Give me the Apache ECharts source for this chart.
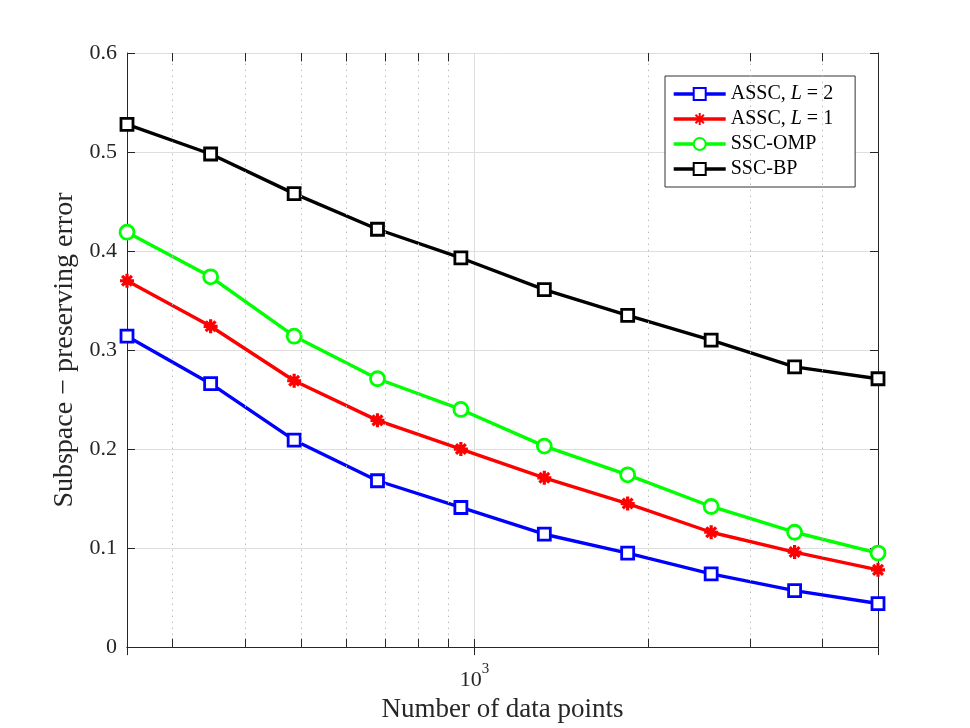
<!DOCTYPE html>
<html>
<head>
<meta charset="utf-8">
<title>Subspace-preserving error</title>
<script src="https://cdn.jsdelivr.net/npm/echarts@6/dist/echarts.min.js"></script>
<style>
  html, body { margin: 0; padding: 0; background: #fff; }
  #main { width: 970px; height: 728px; }
</style>
</head>
<body>
<div id="main"></div>
<script>
// x: number of data points (log axis)
const xPoints = [250, 349, 487, 679, 947, 1321, 1842, 2570, 3585, 5000];
// minor grid / tick positions of the log axis
const xMinorTicks = [300, 400, 500, 600, 700, 800, 900, 2000, 3000, 4000];

// y: subspace-preserving error
const assc2 = [0.314, 0.266, 0.209, 0.168, 0.141, 0.114, 0.095, 0.074, 0.057, 0.044];
const assc1 = [0.370, 0.324, 0.269, 0.229, 0.200, 0.171, 0.145, 0.116, 0.096, 0.078];
const sscOmp = [0.419, 0.374, 0.314, 0.271, 0.240, 0.203, 0.174, 0.142, 0.116, 0.095];
const sscBp = [0.528, 0.498, 0.458, 0.422, 0.393, 0.361, 0.335, 0.310, 0.283, 0.271];

const seriesNames = ['ASSC, L = 2', 'ASSC, L = 1', 'SSC-OMP', 'SSC-BP'];

const FONT = 'Liberation Serif';
const AXIS_COLOR = '#262626';
const asterisk = 'path://M0,-1L0,1M-1,0L1,0M-0.7,-0.7L0.7,0.7M-0.7,0.7L0.7,-0.7';

const chart = echarts.init(document.getElementById('main'), null, { renderer: 'canvas' });

function pairs(vals) {
  return xPoints.map((x, i) => [x, vals[i]]);
}

function lineSeries(name, vals, color, symbol, size) {
  const star = symbol === asterisk;
  return {
    name: name,
    type: 'line',
    data: pairs(vals),
    symbol: symbol,
    symbolSize: size,
    showAllSymbol: true,
    lineStyle: { color: color, width: 3.4 },
    itemStyle: {
      color: star ? color : '#fff',
      borderColor: color,
      borderWidth: star ? 3.2 : 2.8
    },
    emphasis: { disabled: true },
    z: 3
  };
}

// dotted minor grid lines plus short inner ticks on the bottom and top edges
const minorGrid = xMinorTicks.map(x => [{ coord: [x, 0] }, { coord: [x, 0.6] }]);
const minorTicks = [];
xMinorTicks.forEach(x => {
  minorTicks.push([{ coord: [x, 0] }, { coord: [x, 0.0085] }]);
  minorTicks.push([{ coord: [x, 0.5915] }, { coord: [x, 0.6] }]);
});

const option = {
  backgroundColor: '#fff',
  animation: false,
  grid: { left: 127, right: 92, top: 53, bottom: 80 },
  legend: {
    data: seriesNames,
    orient: 'vertical',
    left: 665,
    top: 76,
    itemWidth: 52,
    itemHeight: 15,
    itemGap: 5,
    itemTextGap: 6,
    padding: [8, 22, 8, 7],
    backgroundColor: '#fff',
    borderColor: '#333',
    borderWidth: 1,
    borderRadius: 0,
    lineStyle: { width: 3.4 },
    textStyle: {
      fontFamily: FONT,
      fontSize: 20,
      color: '#000',
      rich: {
        i: { fontFamily: FONT, fontSize: 20, fontStyle: 'italic', color: '#000' }
      }
    },
    formatter: name => name.replace('L', '{i|L}')
  },
  xAxis: [{
    type: 'log',
    logBase: 10,
    min: 250,
    max: 5000,
    name: 'Number of data points',
    nameLocation: 'middle',
    nameGap: 44,
    nameTextStyle: { fontFamily: FONT, fontSize: 27, color: AXIS_COLOR },
    axisLine: { show: true, lineStyle: { color: AXIS_COLOR, width: 1 } },
    axisTick: { show: true, inside: true, length: 8, lineStyle: { color: AXIS_COLOR } },
    axisLabel: {
      margin: 14,
      formatter: v => (Math.abs(v - 1000) < 1 ? '{b|10}{s|3}' : ''),
      rich: {
        b: { fontFamily: FONT, fontSize: 22, color: AXIS_COLOR, lineHeight: 30, verticalAlign: 'bottom' },
        s: { fontFamily: FONT, fontSize: 15, color: AXIS_COLOR, verticalAlign: 'top' }
      }
    },
    splitLine: { show: true, lineStyle: { color: '#dedede', width: 1 } }
  }, {
    type: 'log',
    logBase: 10,
    min: 250,
    max: 5000,
    position: 'top',
    axisLine: { show: true, lineStyle: { color: AXIS_COLOR, width: 1 } },
    axisTick: { show: true, inside: true, length: 8, lineStyle: { color: AXIS_COLOR } },
    axisLabel: { show: false },
    splitLine: { show: false }
  }],
  yAxis: [{
    type: 'value',
    min: 0,
    max: 0.6,
    interval: 0.1,
    name: 'Subspace \u2212 preserving error',
    nameLocation: 'middle',
    nameGap: 48,
    nameTextStyle: { fontFamily: FONT, fontSize: 28, color: AXIS_COLOR },
    axisLine: { show: true, lineStyle: { color: AXIS_COLOR, width: 1 } },
    axisTick: { show: true, inside: true, length: 8, lineStyle: { color: AXIS_COLOR } },
    axisLabel: { margin: 10, fontFamily: FONT, fontSize: 22, color: AXIS_COLOR },
    splitLine: { show: true, lineStyle: { color: '#dedede', width: 1 } }
  }, {
    type: 'value',
    min: 0,
    max: 0.6,
    interval: 0.1,
    position: 'right',
    axisLine: { show: true, lineStyle: { color: AXIS_COLOR, width: 1 } },
    axisTick: { show: true, inside: true, length: 8, lineStyle: { color: AXIS_COLOR } },
    axisLabel: { show: false },
    splitLine: { show: false }
  }],
  series: [
    {
      // helper series: only carries the log-axis minor grid
      name: 'minor',
      type: 'line',
      data: [],
      silent: true,
      z: 1,
      markLine: {
        silent: true,
        symbol: ['none', 'none'],
        label: { show: false },
        animation: false,
        data: minorGrid,
        lineStyle: { color: '#bcbcbc', width: 1, type: [1.5, 4.5] }
      }
    },
    {
      // helper series: minor ticks on bottom and top edges
      name: 'minorTicks',
      type: 'line',
      data: [],
      silent: true,
      z: 2,
      markLine: {
        silent: true,
        symbol: ['none', 'none'],
        label: { show: false },
        animation: false,
        data: minorTicks,
        lineStyle: { color: AXIS_COLOR, width: 1, type: 'solid' }
      }
    },
    lineSeries(seriesNames[0], assc2, '#0000ff', 'rect', 12),
    lineSeries(seriesNames[1], assc1, '#ff0000', asterisk, 14),
    lineSeries(seriesNames[2], sscOmp, '#00ff00', 'circle', 14),
    lineSeries(seriesNames[3], sscBp, '#000000', 'rect', 12)
  ]
};

chart.setOption(option);
</script>
</body>
</html>
